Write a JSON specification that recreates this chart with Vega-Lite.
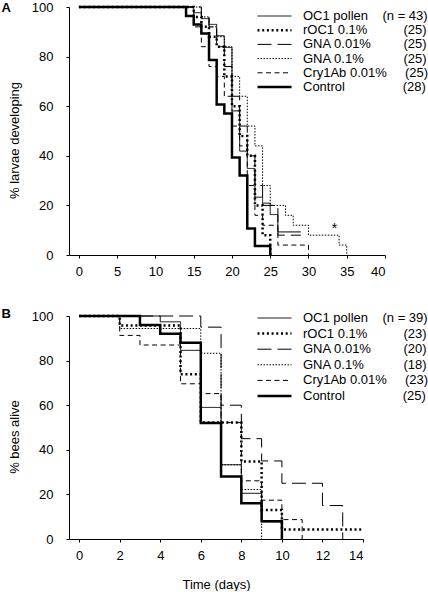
{
  "$schema": "https://vega.github.io/schema/vega-lite/v6.json",
  "padding": {"left": 1, "top": 1, "right": 0, "bottom": 0},
  "background": "white",
  "config": {
    "font": "Liberation Sans",
    "view": {"stroke": null},
    "axis": {"grid": false, "domainColor": "black", "tickColor": "black", "labelColor": "black", "titleColor": "black", "labelFont": "Liberation Sans", "labelFontSize": 13, "titleFont": "Liberation Sans", "titleFontSize": 13, "titleFontWeight": "normal", "tickSize": 3, "domainWidth": 1, "tickWidth": 1, "labelOverlap": false},
    "axisY": {"labelPadding": 13, "titlePadding": 10},
    "axisX": {"labelPadding": 7},
    "legend": {"labelFont": "Liberation Sans", "labelFontSize": 13, "labelColor": "black", "symbolStrokeColor": "black", "padding": 0, "labelLimit": 300},
    "title": {"font": "Liberation Sans", "fontSize": 13, "fontWeight": "bold", "color": "black"},
    "concat": {"spacing": 30}
  },
  "datasets": {
    "A": [
      {"series": "Control", "day": 0, "pct": 100}, {"series": "Control", "day": 14, "pct": 96.4}, {"series": "Control", "day": 15, "pct": 92.9}, {"series": "Control", "day": 16, "pct": 89.3}, {"series": "Control", "day": 17, "pct": 78.6}, {"series": "Control", "day": 18, "pct": 60.7}, {"series": "Control", "day": 19, "pct": 57.1}, {"series": "Control", "day": 20, "pct": 39.3}, {"series": "Control", "day": 21, "pct": 32.1}, {"series": "Control", "day": 22, "pct": 10.7}, {"series": "Control", "day": 23, "pct": 3.6}, {"series": "Control", "day": 25, "pct": 0},
      {"series": "OC1 pollen", "day": 0, "pct": 100}, {"series": "OC1 pollen", "day": 15, "pct": 97.7}, {"series": "OC1 pollen", "day": 16, "pct": 95.3}, {"series": "OC1 pollen", "day": 17, "pct": 93.0}, {"series": "OC1 pollen", "day": 18, "pct": 88.4}, {"series": "OC1 pollen", "day": 19, "pct": 83.7}, {"series": "OC1 pollen", "day": 20, "pct": 58.1}, {"series": "OC1 pollen", "day": 21, "pct": 41.9}, {"series": "OC1 pollen", "day": 22, "pct": 34.9}, {"series": "OC1 pollen", "day": 23, "pct": 23.3}, {"series": "OC1 pollen", "day": 24, "pct": 20.9}, {"series": "OC1 pollen", "day": 25, "pct": 16.3}, {"series": "OC1 pollen", "day": 26, "pct": 9.3}, {"series": "OC1 pollen", "day": 29, "pct": 9.3},
      {"series": "rOC1 0.1%", "day": 0, "pct": 100}, {"series": "rOC1 0.1%", "day": 15, "pct": 96}, {"series": "rOC1 0.1%", "day": 16, "pct": 92}, {"series": "rOC1 0.1%", "day": 17, "pct": 88}, {"series": "rOC1 0.1%", "day": 18, "pct": 84}, {"series": "rOC1 0.1%", "day": 19, "pct": 72}, {"series": "rOC1 0.1%", "day": 20, "pct": 60}, {"series": "rOC1 0.1%", "day": 21, "pct": 48}, {"series": "rOC1 0.1%", "day": 22, "pct": 40}, {"series": "rOC1 0.1%", "day": 23, "pct": 20}, {"series": "rOC1 0.1%", "day": 24, "pct": 8}, {"series": "rOC1 0.1%", "day": 25, "pct": 0},
      {"series": "GNA 0.01%", "day": 0, "pct": 100}, {"series": "GNA 0.01%", "day": 16, "pct": 96}, {"series": "GNA 0.01%", "day": 17, "pct": 92}, {"series": "GNA 0.01%", "day": 18, "pct": 84}, {"series": "GNA 0.01%", "day": 19, "pct": 76}, {"series": "GNA 0.01%", "day": 20, "pct": 64}, {"series": "GNA 0.01%", "day": 21, "pct": 52}, {"series": "GNA 0.01%", "day": 22, "pct": 40}, {"series": "GNA 0.01%", "day": 23, "pct": 28}, {"series": "GNA 0.01%", "day": 24, "pct": 20}, {"series": "GNA 0.01%", "day": 26, "pct": 8}, {"series": "GNA 0.01%", "day": 29, "pct": 8},
      {"series": "GNA 0.1%", "day": 0, "pct": 100}, {"series": "GNA 0.1%", "day": 16, "pct": 96}, {"series": "GNA 0.1%", "day": 17, "pct": 92}, {"series": "GNA 0.1%", "day": 18, "pct": 88}, {"series": "GNA 0.1%", "day": 19, "pct": 84}, {"series": "GNA 0.1%", "day": 20, "pct": 72}, {"series": "GNA 0.1%", "day": 21, "pct": 64}, {"series": "GNA 0.1%", "day": 22, "pct": 52}, {"series": "GNA 0.1%", "day": 23, "pct": 44}, {"series": "GNA 0.1%", "day": 24, "pct": 28}, {"series": "GNA 0.1%", "day": 25, "pct": 20}, {"series": "GNA 0.1%", "day": 27, "pct": 16}, {"series": "GNA 0.1%", "day": 28, "pct": 12}, {"series": "GNA 0.1%", "day": 30, "pct": 8}, {"series": "GNA 0.1%", "day": 34, "pct": 4}, {"series": "GNA 0.1%", "day": 35, "pct": 0},
      {"series": "Cry1Ab 0.01%", "day": 0, "pct": 100}, {"series": "Cry1Ab 0.01%", "day": 15, "pct": 92}, {"series": "Cry1Ab 0.01%", "day": 16, "pct": 84}, {"series": "Cry1Ab 0.01%", "day": 17, "pct": 76}, {"series": "Cry1Ab 0.01%", "day": 18, "pct": 72}, {"series": "Cry1Ab 0.01%", "day": 19, "pct": 64}, {"series": "Cry1Ab 0.01%", "day": 20, "pct": 52}, {"series": "Cry1Ab 0.01%", "day": 21, "pct": 44}, {"series": "Cry1Ab 0.01%", "day": 22, "pct": 28}, {"series": "Cry1Ab 0.01%", "day": 23, "pct": 16}, {"series": "Cry1Ab 0.01%", "day": 24, "pct": 12}, {"series": "Cry1Ab 0.01%", "day": 26, "pct": 4}, {"series": "Cry1Ab 0.01%", "day": 30, "pct": 0}
    ],
    "B": [
      {"series": "Control", "day": 0, "pct": 100}, {"series": "Control", "day": 3, "pct": 96}, {"series": "Control", "day": 4, "pct": 92}, {"series": "Control", "day": 5, "pct": 88}, {"series": "Control", "day": 6, "pct": 52}, {"series": "Control", "day": 7, "pct": 28}, {"series": "Control", "day": 8, "pct": 16}, {"series": "Control", "day": 9, "pct": 8}, {"series": "Control", "day": 10, "pct": 0},
      {"series": "OC1 pollen", "day": 0, "pct": 100}, {"series": "OC1 pollen", "day": 4, "pct": 97.4}, {"series": "OC1 pollen", "day": 5, "pct": 84.6}, {"series": "OC1 pollen", "day": 6, "pct": 59.0}, {"series": "OC1 pollen", "day": 7, "pct": 33.3}, {"series": "OC1 pollen", "day": 8, "pct": 20.5}, {"series": "OC1 pollen", "day": 9, "pct": 7.7}, {"series": "OC1 pollen", "day": 10, "pct": 0},
      {"series": "rOC1 0.1%", "day": 0, "pct": 100}, {"series": "rOC1 0.1%", "day": 2, "pct": 95.7}, {"series": "rOC1 0.1%", "day": 5, "pct": 73.9}, {"series": "rOC1 0.1%", "day": 6, "pct": 52.2}, {"series": "rOC1 0.1%", "day": 8, "pct": 34.8}, {"series": "rOC1 0.1%", "day": 9, "pct": 13.0}, {"series": "rOC1 0.1%", "day": 10, "pct": 4.3}, {"series": "rOC1 0.1%", "day": 14, "pct": 4.3},
      {"series": "GNA 0.01%", "day": 0, "pct": 100}, {"series": "GNA 0.01%", "day": 6, "pct": 95}, {"series": "GNA 0.01%", "day": 7, "pct": 60}, {"series": "GNA 0.01%", "day": 8, "pct": 45}, {"series": "GNA 0.01%", "day": 9, "pct": 35}, {"series": "GNA 0.01%", "day": 10, "pct": 25}, {"series": "GNA 0.01%", "day": 12, "pct": 15}, {"series": "GNA 0.01%", "day": 13, "pct": 0},
      {"series": "GNA 0.1%", "day": 0, "pct": 100}, {"series": "GNA 0.1%", "day": 2, "pct": 94.4}, {"series": "GNA 0.1%", "day": 6, "pct": 83.3}, {"series": "GNA 0.1%", "day": 7, "pct": 33.3}, {"series": "GNA 0.1%", "day": 8, "pct": 22.2}, {"series": "GNA 0.1%", "day": 9, "pct": 0},
      {"series": "Cry1Ab 0.01%", "day": 0, "pct": 100}, {"series": "Cry1Ab 0.01%", "day": 2, "pct": 91.3}, {"series": "Cry1Ab 0.01%", "day": 3, "pct": 87.0}, {"series": "Cry1Ab 0.01%", "day": 5, "pct": 69.6}, {"series": "Cry1Ab 0.01%", "day": 6, "pct": 65.2}, {"series": "Cry1Ab 0.01%", "day": 7, "pct": 52.2}, {"series": "Cry1Ab 0.01%", "day": 8, "pct": 26.1}, {"series": "Cry1Ab 0.01%", "day": 9, "pct": 17.4}, {"series": "Cry1Ab 0.01%", "day": 10, "pct": 8.7}, {"series": "Cry1Ab 0.01%", "day": 11, "pct": 0}
    ]
  },
  "vconcat": [
    {
      "title": {"text": "A", "orient": "left", "anchor": "end", "frame": "group", "angle": 0, "align": "right", "baseline": "top", "offset": 0, "dy": -5, "dx": 12},
      "width": 316,
      "height": 248,
      "encoding": {
        "x": {"field": "day", "type": "quantitative", "scale": {"domain": [-1.3, 40], "nice": false, "zero": false}, "axis": {"values": [0, 5, 10, 15, 20, 25, 30, 35, 40], "title": null}},
        "y": {"field": "pct", "type": "quantitative", "scale": {"domain": [0, 100], "nice": false}, "axis": {"values": [0, 20, 40, 60, 80, 100], "title": "% larvae developing", "titleY": 133}}
      },
      "layer": [
        {
          "data": {"name": "A"},
          "mark": {"type": "line", "interpolate": "step-after", "color": "black"},
          "encoding": {
            "strokeDash": {"field": "series", "type": "nominal",
              "scale": {"domain": ["OC1 pollen", "rOC1 0.1%", "GNA 0.01%", "GNA 0.1%", "Cry1Ab 0.01%", "Control"], "range": [[1, 0], [2, 2.7], [14, 6], [1.5, 1.5], [5, 3.5], [1, 0]]},
              "legend": {"orient": "none", "legendX": 187, "legendY": 2, "title": null, "clipHeight": 14, "rowPadding": 0.2, "symbolSize": 1156, "labelOffset": 10, "symbolType": "stroke",
                "labelExpr": "datum.label == 'OC1 pollen' ? 'OC1 pollen\u00a0\u00a0\u00a0\u00a0(n = 43)' : datum.label == 'rOC1 0.1%' ? 'rOC1 0.1%\u00a0\u00a0\u00a0\u00a0\u00a0\u00a0\u00a0\u00a0\u00a0\u00a0(25)' : datum.label == 'GNA 0.01%' ? 'GNA 0.01%\u00a0\u00a0\u00a0\u00a0\u00a0\u00a0\u00a0\u00a0\u00a0(25)' : datum.label == 'GNA 0.1%' ? 'GNA 0.1%\u00a0\u00a0\u00a0\u00a0\u00a0\u00a0\u00a0\u00a0\u00a0\u00a0\u00a0(25)' : datum.label == 'Cry1Ab 0.01%' ? 'Cry1Ab 0.01%\u00a0\u00a0\u00a0\u00a0\u00a0(25)' : 'Control\u00a0\u00a0\u00a0\u00a0\u00a0\u00a0\u00a0\u00a0\u00a0\u00a0\u00a0\u00a0\u00a0\u00a0\u00a0\u00a0(28)'"}},
            "strokeWidth": {"field": "series", "type": "nominal",
              "scale": {"type": "ordinal", "domain": ["OC1 pollen", "rOC1 0.1%", "GNA 0.01%", "GNA 0.1%", "Cry1Ab 0.01%", "Control"], "range": [1, 2.5, 1, 1, 1, 2.5]},
              "legend": {"orient": "none", "legendX": 187, "legendY": 2, "title": null, "clipHeight": 14, "rowPadding": 0.2, "symbolSize": 1156, "labelOffset": 10, "symbolType": "stroke"}}
          }
        },
        {
          "data": {"values": [{"day": 33.4, "pct": 10.5, "note": "*"}]},
          "mark": {"type": "text", "fontSize": 14, "font": "Liberation Sans", "color": "black"},
          "encoding": {
            "text": {"field": "note"}
          }
        }
      ]
    },
    {
      "title": {"text": "B", "orient": "left", "anchor": "end", "frame": "group", "angle": 0, "align": "right", "baseline": "top", "offset": 0, "dy": -8, "dx": 12},
      "width": 294,
      "height": 223,
      "data": {"name": "B"},
      "mark": {"type": "line", "interpolate": "step-after", "color": "black"},
      "encoding": {
        "x": {"field": "day", "type": "quantitative", "scale": {"domain": [-0.5, 14], "nice": false, "zero": false}, "axis": {"values": [0, 2, 4, 6, 8, 10, 12, 14], "title": "Time (days)", "titlePadding": 16}},
        "y": {"field": "pct", "type": "quantitative", "scale": {"domain": [0, 100], "nice": false}, "axis": {"values": [0, 20, 40, 60, 80, 100], "title": "% bees alive", "titleY": 120.5}},
        "strokeDash": {"field": "series", "type": "nominal",
          "scale": {"domain": ["OC1 pollen", "rOC1 0.1%", "GNA 0.01%", "GNA 0.1%", "Cry1Ab 0.01%", "Control"], "range": [[1, 0], [2, 2.7], [14, 6], [1.5, 1.5], [5, 3.5], [1, 0]]},
          "legend": {"orient": "none", "legendX": 187, "legendY": -5, "title": null, "clipHeight": 14, "rowPadding": 1.6, "symbolSize": 1156, "labelOffset": 10, "symbolType": "stroke",
            "labelExpr": "datum.label == 'OC1 pollen' ? 'OC1 pollen\u00a0\u00a0\u00a0\u00a0(n = 39)' : datum.label == 'rOC1 0.1%' ? 'rOC1 0.1%\u00a0\u00a0\u00a0\u00a0\u00a0\u00a0\u00a0\u00a0\u00a0\u00a0(23)' : datum.label == 'GNA 0.01%' ? 'GNA 0.01%\u00a0\u00a0\u00a0\u00a0\u00a0\u00a0\u00a0\u00a0\u00a0(20)' : datum.label == 'GNA 0.1%' ? 'GNA 0.1%\u00a0\u00a0\u00a0\u00a0\u00a0\u00a0\u00a0\u00a0\u00a0\u00a0\u00a0(18)' : datum.label == 'Cry1Ab 0.01%' ? 'Cry1Ab 0.01%\u00a0\u00a0\u00a0\u00a0\u00a0(23)' : 'Control\u00a0\u00a0\u00a0\u00a0\u00a0\u00a0\u00a0\u00a0\u00a0\u00a0\u00a0\u00a0\u00a0\u00a0\u00a0\u00a0(25)'"}},
        "strokeWidth": {"field": "series", "type": "nominal",
          "scale": {"type": "ordinal", "domain": ["OC1 pollen", "rOC1 0.1%", "GNA 0.01%", "GNA 0.1%", "Cry1Ab 0.01%", "Control"], "range": [1, 2.5, 1, 1, 1, 2.5]},
          "legend": {"orient": "none", "legendX": 187, "legendY": -5, "title": null, "clipHeight": 14, "rowPadding": 1.6, "symbolSize": 1156, "labelOffset": 10, "symbolType": "stroke"}}
      }
    }
  ],
  "resolve": {
    "scale": {"strokeDash": "independent", "strokeWidth": "independent"},
    "legend": {"strokeDash": "independent", "strokeWidth": "independent"}
  }
}
